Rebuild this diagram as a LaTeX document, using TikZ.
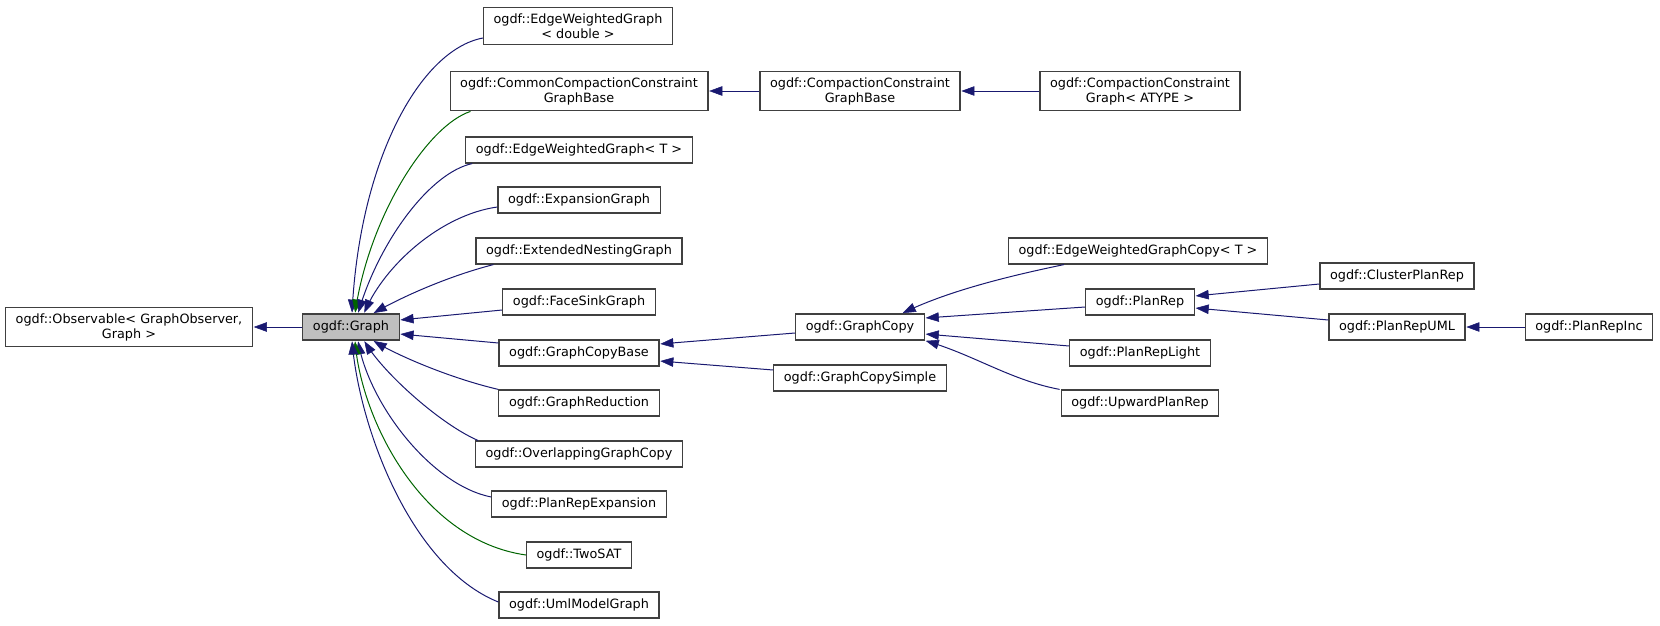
\documentclass[tikz,border=0pt]{standalone}
\usepackage{tikz}
\usepackage{xcolor}
\usepackage{fontspec}
\setmainfont{DejaVu Sans}
\definecolor{navy}{RGB}{25,25,112}
\definecolor{dgreen}{RGB}{0,100,0}
\definecolor{dgray}{RGB}{64,64,64}
\definecolor{lgray}{RGB}{191,191,191}
\usetikzlibrary{calc, arrows.meta, decorations.markings}
\tikzstyle{Box} = [
draw=dgray,
line width=0.9pt,
align=center,
inner xsep=7.6pt,
inner ysep=4.6pt,
minimum height=19.5pt,
font=\fontsize{9.6}{11.25}\selectfont]
\tikzstyle{Arrow} = [
line width=0.75pt,
navy,
decoration={
markings,
mark=at position 0.9999 with {
\arrow[navy]{Triangle[length=10.5pt, width=7.5pt]}}},
shorten >= 3pt, preaction = {decorate}]
\tikzstyle{ArrowGreen} = [
line width=0.75pt,
dgreen,
decoration={
markings,
mark=at position 0.9999 with {
\arrow[dgreen]{Triangle[length=10.5pt, width=7.5pt]}}},
shorten >= 3pt, preaction = {decorate}]

\begin{document}
\begin{tikzpicture}[x=0.75pt, y=-0.75pt]
    \useasboundingbox (0,0) rectangle (1660,625);
    \node [Box, fill=lgray] (1) at (351,327) {ogdf::Graph};
    \node [Box] (2) at (129,327) {ogdf::Observable< GraphObserver,\\Graph >};
    \node [Box] (3) at (578,26) {ogdf::EdgeWeightedGraph\\< double >};
    \node [Box] (4) at (579,91) {ogdf::CommonCompactionConstraint\\GraphBase};
    \node [Box] (5) at (579,150) {ogdf::EdgeWeightedGraph< T >};
    \node [Box] (6) at (579,200) {ogdf::ExpansionGraph};
    \node [Box] (7) at (579,251) {ogdf::ExtendedNestingGraph};
    \node [Box] (8) at (579,302) {ogdf::FaceSinkGraph};
    \node [Box] (9) at (579,353) {ogdf::GraphCopyBase};
    \node [Box] (10) at (579,403) {ogdf::GraphReduction};
    \node [Box] (11) at (579,454) {ogdf::OverlappingGraphCopy};
    \node [Box] (12) at (579,504) {ogdf::PlanRepExpansion};
    \node [Box] (13) at (579,555) {ogdf::TwoSAT};
    \node [Box] (14) at (579,605) {ogdf::UmlModelGraph};
    \node [Box] (15) at (860,91) {ogdf::CompactionConstraint\\GraphBase};
    \node [Box] (16) at (1140,91) {ogdf::CompactionConstraint\\Graph< ATYPE >};
    \node [Box] (17) at (860,327) {ogdf::GraphCopy};
    \node [Box] (18) at (860,378) {ogdf::GraphCopySimple};
    \node [Box] (19) at (1138,251) {ogdf::EdgeWeightedGraphCopy< T >};
    \node [Box] (20) at (1140,302) {ogdf::PlanRep};
    \node [Box] (21) at (1140,353) {ogdf::PlanRepLight};
    \node [Box] (22) at (1140,403) {ogdf::UpwardPlanRep};
    \node [Box] (23) at (1397,276) {ogdf::ClusterPlanRep};
    \node [Box] (24) at (1397,327) {ogdf::PlanRepUML};
    \node [Box] (25) at (1589,327) {ogdf::PlanRepInc};

    \draw[Arrow] (1.west) -- (2.east);
    \draw[Arrow] ($(3.west)+(0,12)$) .. controls +(-63,12) and +(8,-153) .. ($(1.north)+(1,0)$);
    \draw[ArrowGreen] ($(4.south west)+(21,0)$) .. controls +(-43,14) and +(15,-98) .. ($(1.north)+(4,0)$);
    \draw[Arrow] ($(5.south west)+(7,0)$) .. controls +(-42,9) and +(22,-73) .. ($(1.north)+(7,0)$);
    \draw[Arrow] ($(6.west)+(0,7)$) .. controls +(-57,8) and +(21,-48) .. ($(1.north)+(13,0)$);
    \draw[Arrow] ($(7.south west)+(18,0)$) .. controls +(-43,11) and +(32,-18) .. ($(1.north)+(22,0)$);
    \draw[Arrow] ($(8.west)+(0,8)$) -- ($(1.east)+(0,-7)$);
    \draw[Arrow] ($(9.west)+(0,-10)$) -- ($(1.east)+(0,7)$);
    \draw[Arrow] (10.north west) .. controls +(-47,-11) and +(27,16) .. ($(1.south)+(22,0)$);
    \draw[Arrow] ($(11.north west)+(3,0)$) .. controls +(-37,-16) and +(21,34) .. ($(1.south)+(13,0)$);
    \draw[Arrow] ($(12.west)+(0,-7)$) .. controls +(-60,-12) and +(12,64) .. ($(1.south)+(7,0)$);
    \draw[ArrowGreen] (13.west) .. controls +(-105,-15) and +(7,79) .. ($(1.south)+(4,0)$);
    \draw[Arrow] ($(14.west)+(0,-3)$) .. controls +(-87,-35) and +(8,89) .. ($(1.south)+(1,0)$);

    \draw[Arrow] (15.west) -- (4.east);
    \draw[Arrow] (16.west) -- (15.east);
    \draw[Arrow] ($(17.west)+(0,6)$) -- ($(9.east)+(0,-9)$);
    \draw[Arrow] ($(18.west)+(0,-8)$) -- ($(9.east)+(0,8)$);
    \draw[Arrow] ($(19.south west)+(56,0)$) .. controls +(-53,11) and +(48,-23) .. ($(17.north)+(42,0)$);
    \draw[Arrow] ($(20.west)+(0,5)$) -- ($(17.east)+(0,-9)$);
    \draw[Arrow] ($(21.west)+(0,-7)$) -- ($(17.east)+(0,7)$);
    \draw[Arrow] ($(22.north west)+(-1,0)$) .. controls +(-48,-9) and +(50,15) .. (17.south east);
    \draw[Arrow] ($(23.west)+(0,8)$) -- ($(20.east)+(0,-6)$);
    \draw[Arrow] ($(24.west)+(0,-7)$) -- ($(20.east)+(0,6)$);
    \draw[Arrow] (25.west) -- (24.east);
\end{tikzpicture}
\end{document}
